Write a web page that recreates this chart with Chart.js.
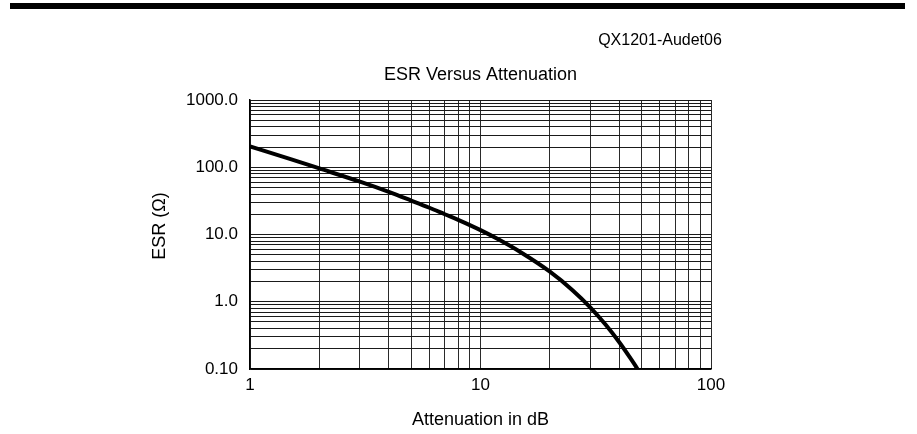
<!DOCTYPE html>
<html>
<head>
<meta charset="utf-8">
<script src="https://cdn.jsdelivr.net/npm/chart.js@4"></script>
<style>
  body { margin: 0; background: #fff; }
  #chart { display: block; }
</style>
</head>
<body>
<canvas id="chart" width="917" height="434"></canvas>
<script>
// values
let attenuation = [1, 1.5, 2, 3, 4, 5, 6, 7, 8, 10, 12, 15, 20, 25, 30, 35, 40, 45, 48];
let esr = [204, 132, 96, 61, 43, 32, 25, 20, 16.5, 11.6, 8.4, 5.4, 2.8, 1.5, 0.82, 0.45, 0.25, 0.14, 0.1];

// grid / tick positions
let xTicks = [1, 2, 3, 4, 5, 6, 7, 8, 9, 10, 20, 30, 40, 50, 60, 70, 80, 90, 100];
let xLabels = { 1: "1", 10: "10", 100: "100" };
let yTicks = [0.1, 0.2, 0.3, 0.4, 0.5, 0.6, 0.7, 0.8, 0.9,
              1, 2, 3, 4, 5, 6, 7, 8, 9,
              10, 20, 30, 40, 50, 60, 70, 80, 90,
              100, 200, 300, 400, 500, 600, 700, 800, 900, 1000];
let yLabels = { 0.1: "0.10", 1: "1.0", 10: "10.0", 100: "100.0", 1000: "1000.0" };

let fontFamily = "'Liberation Sans', Arial, sans-serif";

// extra text and the heavy rule across the top
let decorations = {
    id: "decorations",
    afterDraw: function (chart) {
        let ctx = chart.ctx;
        let area = chart.chartArea;
        let cx = (area.left + area.right) / 2;
        ctx.save();
        ctx.fillStyle = "#000";
        ctx.fillRect(10, 3, 895, 6);

        ctx.textBaseline = "middle";
        ctx.textAlign = "center";
        ctx.font = "16px " + fontFamily;
        ctx.fillText("QX1201-Audet06", 660, 41);

        ctx.font = "18px " + fontFamily;
        ctx.fillText("ESR Versus Attenuation", cx, 75);
        ctx.fillText("Attenuation in dB", cx, 420);

        ctx.translate(160, 226);
        ctx.rotate(-Math.PI / 2);
        ctx.fillText("ESR (\u03A9)", 0, 0);
        ctx.restore();
    }
};

let ctx = document.getElementById("chart").getContext("2d");

let chartview = new Chart(ctx, {
    type: "line",
    data: {
        datasets: [{
            data: attenuation.map(function (a, i) { return { x: a, y: esr[i] }; }),
            borderColor: "#000",
            borderWidth: 4,
            pointRadius: 0,
            cubicInterpolationMode: "monotone",
            fill: false
        }]
    },
    options: {
        responsive: false,
        animation: false,
        layout: { padding: { left: 0, top: 100, right: 206, bottom: 0 } },
        plugins: {
            legend: { display: false },
            tooltip: { enabled: false }
        },
        scales: {
            x: {
                type: "logarithmic",
                min: 1,
                max: 100,
                afterBuildTicks: function (scale) {
                    scale.ticks = xTicks.map(function (v) { return { value: v }; });
                },
                afterFit: function (scale) { scale.height = 65; },
                ticks: {
                    autoSkip: false,
                    maxRotation: 0,
                    padding: 6,
                    color: "#000",
                    font: { family: fontFamily, size: 17 },
                    callback: function (v) { return xLabels[v] || ""; }
                },
                grid: { color: "#2a2a2a", lineWidth: 1, drawTicks: false },
                border: { color: "#000", width: 1.5 }
            },
            y: {
                type: "logarithmic",
                min: 0.1,
                max: 1000,
                afterBuildTicks: function (scale) {
                    scale.ticks = yTicks.map(function (v) { return { value: v }; });
                },
                afterFit: function (scale) { scale.width = 250; },
                ticks: {
                    autoSkip: false,
                    padding: 12,
                    color: "#000",
                    font: { family: fontFamily, size: 17 },
                    callback: function (v) { return yLabels[v] || ""; }
                },
                grid: { color: "#1a1a1a", lineWidth: 1, drawTicks: false },
                border: { color: "#000", width: 1.5 }
            }
        }
    },
    plugins: [decorations]
});
</script>
</body>
</html>
